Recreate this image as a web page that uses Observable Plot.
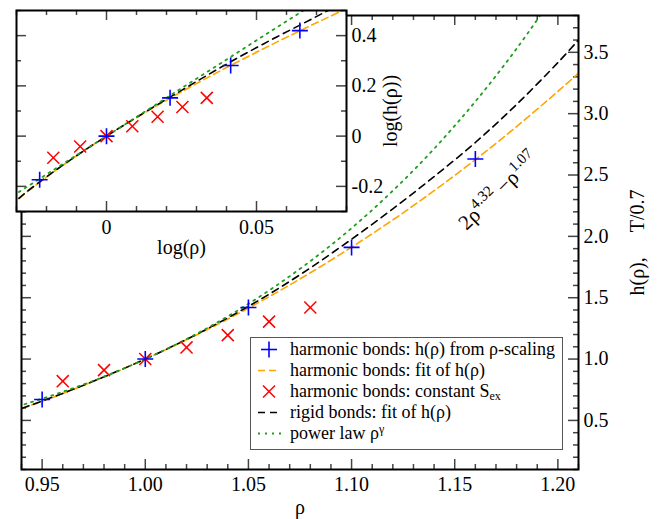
<!DOCTYPE html>
<html>
<head>
<meta charset="utf-8">
<script src="https://cdn.jsdelivr.net/npm/d3@7"></script>
<script src="https://cdn.jsdelivr.net/npm/@observablehq/plot@0.6"></script>
<style>
  body { margin: 0; background: #fff; }
  #wrap { position: relative; width: 661px; height: 519px; font-family: "Liberation Serif", "DejaVu Serif", serif; }
  #wrap > svg { position: absolute; left: 0; top: 0; }
  #legend { position: absolute; left: 250px; top: 337px; width: 311px; height: 111px; border: 1px solid #555; background: #fff; font-size: 18px; color: #000; font-family: "Liberation Serif", "DejaVu Serif", serif; }
  #legend .row { position: absolute; left: 0; height: 21px; width: 311px; }
  #legend .row svg { position: absolute; left: 3px; top: 0; }
  #legend .row span.t { position: absolute; left: 39px; top: 0; line-height: 21px; white-space: nowrap; }
  #legend sub { font-size: 12px; vertical-align: -3px; line-height: 0; }
  #legend sup { font-size: 12px; vertical-align: 6px; line-height: 0; }
</style>
</head>
<body>
<div id="wrap"></div>
<script>
// ---------------- data ----------------
const rhoHarm = [0.95, 1.00, 1.05, 1.10, 1.16];
const hHarm   = [0.67, 1.00, 1.42, 1.91, 2.63];

const rhoSex = [0.96, 0.98, 1.00, 1.02, 1.04, 1.06, 1.08];
const hSex   = [0.82, 0.91, 1.00, 1.095, 1.195, 1.305, 1.42];

const rhoCurve  = [0.935, 0.94, 0.96, 0.98, 1.00, 1.02, 1.04, 1.06, 1.08, 1.10, 1.12, 1.14, 1.16, 1.18, 1.20, 1.21];
const hFitHarm  = [0.565, 0.595, 0.719, 0.854, 1.000, 1.157, 1.326, 1.508, 1.703, 1.912, 2.134, 2.372, 2.625, 2.895, 3.181, 3.33];
const hFitRigid = [0.565, 0.597, 0.720, 0.855, 1.000, 1.160, 1.336, 1.528, 1.743, 1.977, 2.224, 2.487, 2.765, 3.075, 3.416, 3.60];
const hPower    = [0.599, 0.624, 0.733, 0.857, 1.000, 1.163, 1.348, 1.559, 1.798, 2.067, 2.372, 2.714, 3.099, 3.530, 4.012, 4.274];

const xTicksMain  = [0.95, 1.00, 1.05, 1.10, 1.15, 1.20];
const yTicksMain  = [0.5, 1.0, 1.5, 2.0, 2.5, 3.0, 3.5];
const xTicksInset = [0, 0.05];
const yTicksInset = [-0.2, 0, 0.2, 0.4];

const legendLabels = [
  "harmonic bonds: h(ρ) from ρ-scaling",
  "harmonic bonds: fit of h(ρ)",
  "harmonic bonds: constant S<sub>ex</sub>",
  "rigid bonds: fit of h(ρ)",
  "power law ρ<sup>γ</sup>"
];
const annotation = {rho: 1.156, h: 2.04};

// ---------------- styles ----------------
const C = {blue: "#0000ff", red: "#ff0000", orange: "#ffa500", black: "#000000", green: "#1f9e1f", tick: "#444"};
const FONT = '"Liberation Serif", "DejaVu Serif", serif';

const plusSym = {draw(ctx, size) { const r = Math.sqrt(size / Math.PI); ctx.moveTo(-r, 0); ctx.lineTo(r, 0); ctx.moveTo(0, -r); ctx.lineTo(0, r); }};
const timesSym = {draw(ctx, size) { const r = Math.sqrt(size / Math.PI) * Math.SQRT1_2; ctx.moveTo(-r, -r); ctx.lineTo(r, r); ctx.moveTo(-r, r); ctx.lineTo(r, -r); }};

const near = (a, b) => Math.abs(a - b) < 1e-9;
const minorOf = (lo, hi, step, majors) => d3.range(Math.round(lo / step), Math.round(hi / step) + 1)
  .map(k => +(k * step).toFixed(6)).filter(v => !majors.some(m => near(m, v)));

function frameTicks(xMaj, xMin, yMaj, yMin, ph, pw) {
  const st = {stroke: C.tick, strokeWidth: 1.5};
  return [
    Plot.tickX(xMaj, {x: d => d, insetTop: ph - 10, ...st}),
    Plot.tickX(xMin, {x: d => d, insetTop: ph - 5, ...st}),
    Plot.tickX(xMaj, {x: d => d, insetBottom: ph - 10, ...st}),
    Plot.tickX(xMin, {x: d => d, insetBottom: ph - 5, ...st}),
    Plot.tickY(yMaj, {y: d => d, insetRight: pw - 10, ...st}),
    Plot.tickY(yMin, {y: d => d, insetRight: pw - 5, ...st}),
    Plot.tickY(yMaj, {y: d => d, insetLeft: pw - 10, ...st}),
    Plot.tickY(yMin, {y: d => d, insetLeft: pw - 5, ...st})
  ];
}

function curves(xf, yf) {
  return [
    Plot.line(rhoCurve, {x: rhoCurve.map(xf), y: hFitHarm.map(yf), stroke: C.orange, strokeWidth: 1.6, strokeDasharray: "7,4", curve: "catmull-rom", clip: true}),
    Plot.line(rhoCurve, {x: rhoCurve.map(xf), y: hFitRigid.map(yf), stroke: C.black, strokeWidth: 1.6, strokeDasharray: "7,5", curve: "catmull-rom", clip: true}),
    Plot.line(rhoCurve, {x: rhoCurve.map(xf), y: hPower.map(yf), stroke: C.green, strokeWidth: 1.8, strokeDasharray: "2,5", curve: "catmull-rom", clip: true}),
    Plot.dot(rhoSex, {x: rhoSex.map(xf), y: hSex.map(yf), symbol: timesSym, r: 8.5, fill: "none", stroke: C.red, strokeWidth: 1.5}),
    Plot.dot(rhoHarm, {x: rhoHarm.map(xf), y: hHarm.map(yf), symbol: plusSym, r: 8, fill: "none", stroke: C.blue, strokeWidth: 1.6})
  ];
}

// ---------------- main plot ----------------
const W = 661, H = 519, mT = 15, mB = 50, mL = 21, mR = 83;
const ph = H - mT - mB, pw = W - mL - mR;
const xMinorMain = minorOf(0.94, 1.21, 0.01, xTicksMain);
const yMinorMain = minorOf(0.1, 3.8, 0.1, yTicksMain);

const main = Plot.plot({
  width: W, height: H, marginTop: mT, marginBottom: mB, marginLeft: mL, marginRight: mR,
  style: {fontFamily: FONT, fontSize: "20px", background: "white", color: "black"},
  x: {domain: [0.94, 1.21]},
  y: {domain: [0.1, 3.8]},
  marks: [
    ...frameTicks(xTicksMain, xMinorMain, yTicksMain, yMinorMain, ph, pw),
    ...curves(d => d, d => d),
    Plot.frame({stroke: "black", strokeWidth: 2}),
    Plot.axisX(xTicksMain, {anchor: "bottom", tickSize: 0, tickPadding: 7, tickFormat: d3.format(".2f"), label: null, fontSize: 20}),
    Plot.axisY(yTicksMain, {anchor: "right", tickSize: 0, tickPadding: 5, tickFormat: d3.format(".1f"), label: null, fontSize: 20}),
    Plot.text(["ρ"], {text: d => d, frameAnchor: "bottom", textAnchor: "middle", lineAnchor: "middle", dy: 38, fontSize: 20}),
    Plot.text(["h(ρ),\u00a0\u00a0\u00a0\u00a0\u00a0T/0.7"], {text: d => d, frameAnchor: "right", textAnchor: "middle", lineAnchor: "middle", rotate: -90, dx: 59, fontSize: 20})
  ]
});

// rotated formula annotation next to the harmonic fit
{
  const ax = main.scale("x").apply(annotation.rho), ay = main.scale("y").apply(annotation.h);
  const t = d3.select(main).append("text")
    .attr("transform", `translate(${ax},${ay}) rotate(-44)`)
    .attr("text-anchor", "start")
    .attr("font-family", FONT).attr("font-size", 21).attr("fill", "black");
  t.append("tspan").text("2ρ");
  t.append("tspan").attr("font-size", 15).attr("dy", -9).text("4.32");
  t.append("tspan").attr("dy", 9).text(" −ρ");
  t.append("tspan").attr("font-size", 15).attr("dy", -9).text("1.07");
}

// ---------------- inset ----------------
const iW = 420, iH = 260, imT = 10, imB = 49, imL = 16, imR = 74;
const iph = iH - imT - imB, ipw = iW - imL - imR;
const xMinorInset = minorOf(-0.03, 0.08, 0.01, xTicksInset);
const yMinorInset = minorOf(-0.3, 0.5, 0.1, yTicksInset);

const inset = Plot.plot({
  width: iW, height: iH, marginTop: imT, marginBottom: imB, marginLeft: imL, marginRight: imR,
  style: {fontFamily: FONT, fontSize: "20px", background: "transparent", color: "black"},
  x: {domain: [-0.03, 0.08]},
  y: {domain: [-0.3, 0.5]},
  marks: [
    Plot.frame({fill: "white", stroke: "none"}),
    ...frameTicks(xTicksInset, xMinorInset, yTicksInset, yMinorInset, iph, ipw),
    ...curves(Math.log10, Math.log10),
    Plot.frame({stroke: "black", strokeWidth: 2}),
    Plot.axisX(xTicksInset, {anchor: "bottom", tickSize: 0, tickPadding: 8, tickFormat: d => d === 0 ? "0" : d3.format(".2f")(d), label: null, fontSize: 20}),
    Plot.axisY(yTicksInset, {anchor: "right", tickSize: 0, tickPadding: 5, tickFormat: d => d === 0 ? "0" : d3.format(".1f")(d).replace("−", "-"), label: null, fontSize: 20}),
    Plot.text(["log(ρ)"], {text: d => d, frameAnchor: "bottom", textAnchor: "middle", lineAnchor: "middle", dy: 36, fontSize: 20}),
    Plot.text(["log(h(ρ))"], {text: d => d, frameAnchor: "right", textAnchor: "middle", lineAnchor: "middle", rotate: -90, dx: 44, fontSize: 20})
  ]
});

const wrap = document.getElementById("wrap");
wrap.appendChild(main);
wrap.appendChild(inset);

// ---------------- legend ----------------
const legend = document.createElement("div");
legend.id = "legend";
const swatches = [
  `<line x1="7" y1="10.5" x2="23" y2="10.5" stroke="${C.blue}" stroke-width="1.6"/><line x1="15" y1="2.5" x2="15" y2="18.5" stroke="${C.blue}" stroke-width="1.6"/>`,
  `<line x1="4" y1="10.5" x2="26" y2="10.5" stroke="${C.orange}" stroke-width="1.6" stroke-dasharray="7,4"/>`,
  `<line x1="9" y1="4.5" x2="21" y2="16.5" stroke="${C.red}" stroke-width="1.5"/><line x1="9" y1="16.5" x2="21" y2="4.5" stroke="${C.red}" stroke-width="1.5"/>`,
  `<line x1="4" y1="10.5" x2="26" y2="10.5" stroke="${C.black}" stroke-width="1.6" stroke-dasharray="7,5"/>`,
  `<line x1="4" y1="10.5" x2="27" y2="10.5" stroke="${C.green}" stroke-width="1.8" stroke-dasharray="2,5"/>`
];
legendLabels.forEach((lab, i) => {
  const row = document.createElement("div");
  row.className = "row";
  row.style.top = (0.5 + i * 21) + "px";
  row.innerHTML = `<svg width="30" height="21">${swatches[i]}</svg><span class="t">${lab}</span>`;
  legend.appendChild(row);
});
wrap.appendChild(legend);
</script>
</body>
</html>
